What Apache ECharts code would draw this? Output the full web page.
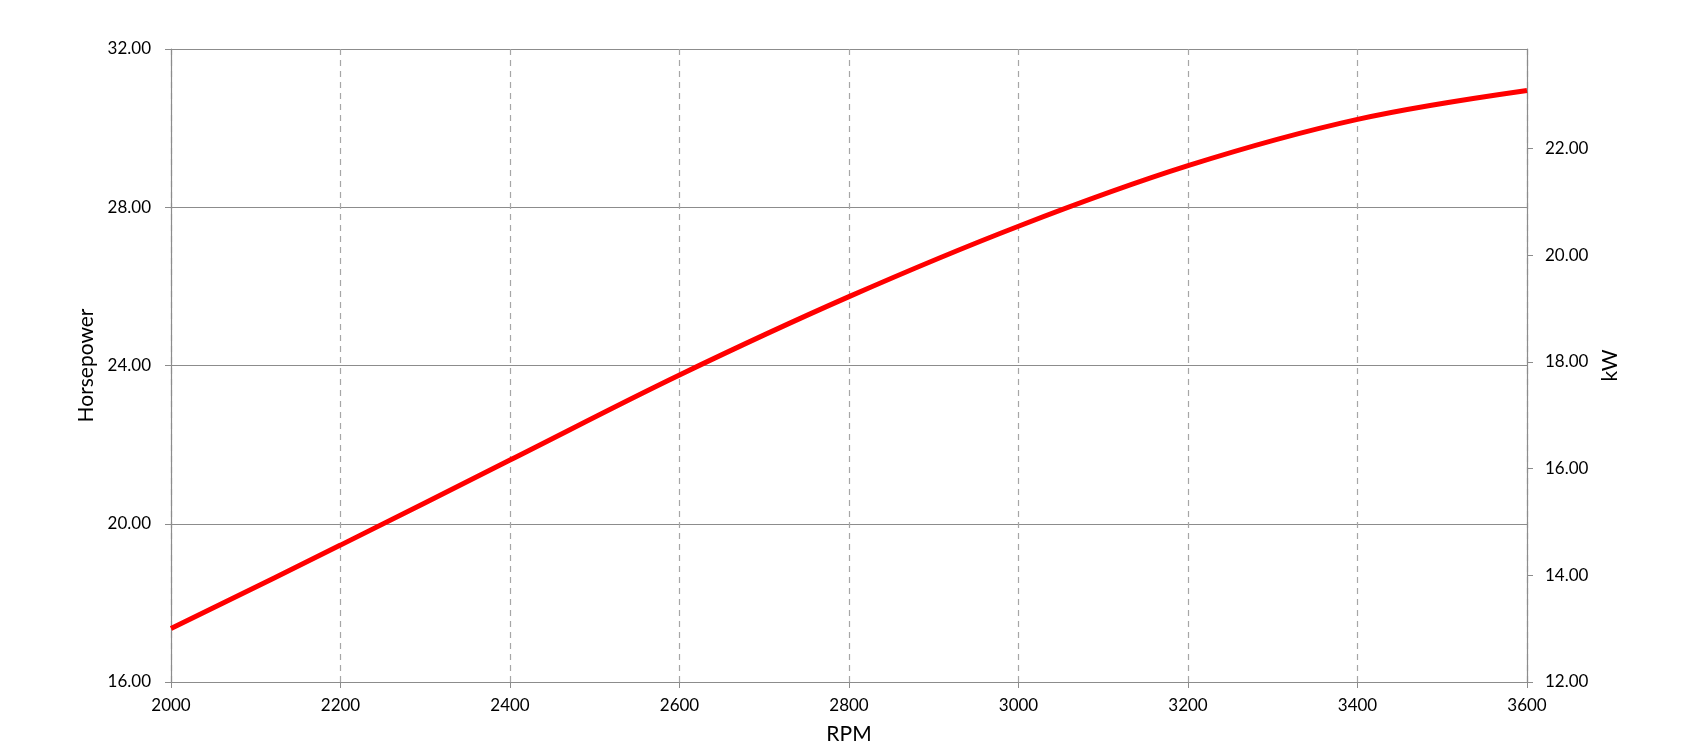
<!DOCTYPE html>
<html>
<head>
<meta charset="utf-8">
<script src="https://cdn.jsdelivr.net/npm/echarts@6/dist/echarts.min.js"></script>
<style>
html,body{margin:0;padding:0;background:#fff;}
#chart{width:1683px;height:755px;}
</style>
</head>
<body>
<div id="chart"></div>
<script>
const rpm = [2000, 2200, 2400, 2600, 2800, 3000, 3200, 3400, 3600];
const horsepower = [17.35, 19.46, 21.61, 23.76, 25.74, 27.52, 29.05, 30.22, 30.95];
const kwTicks = [12, 14, 16, 18, 20, 22];
const hpTicks = [16, 20, 24, 28, 32];

const FONT = 'Lato, "Open Sans", sans-serif';
const chart = echarts.init(document.getElementById('chart'));
chart.setOption({
  animation: false,
  backgroundColor: '#ffffff',
  grid: { left: 171, right: 156, top: 49, bottom: 73, outerBoundsMode: 'none', containLabel: false },
  xAxis: {
    type: 'value', min: 2000, max: 3600, interval: 200,
    name: 'RPM', nameLocation: 'middle', nameGap: 42,
    nameTextStyle: { fontFamily: FONT, fontSize: 21, color: '#000' },
    axisLine: { show: true, lineStyle: { color: '#8c8c8c', width: 1.2 } },
    axisTick: { show: true, length: 6, lineStyle: { color: '#8c8c8c' } },
    axisLabel: { fontFamily: FONT, fontSize: 17, color: '#000', margin: 15,
      formatter: v => String(v) },
    splitLine: { show: true, lineStyle: { color: '#a6a6a6', type: [6, 5], width: 1.2 } }
  },
  yAxis: [
    {
      type: 'value', min: 16, max: 32, interval: 4, position: 'left',
      name: 'Horsepower', nameLocation: 'middle', nameGap: 72, nameRotate: 90,
      nameTextStyle: { fontFamily: FONT, fontSize: 21, color: '#000' },
      axisLine: { show: true, lineStyle: { color: '#8c8c8c', width: 1.2 } },
      axisTick: { show: true, length: 6, lineStyle: { color: '#8c8c8c' } },
      axisLabel: { fontFamily: FONT, fontSize: 17, color: '#000', margin: 20,
        customValues: hpTicks, formatter: v => Number(v).toFixed(2) },
      splitLine: { show: true, lineStyle: { color: '#8c8c8c', width: 1.2 } }
    },
    {
      type: 'value', min: 12, max: 32 * 0.7457, position: 'right',
      name: 'kW', nameLocation: 'middle', nameGap: 72, nameRotate: 90,
      nameTextStyle: { fontFamily: FONT, fontSize: 21, color: '#000' },
      axisLine: { show: true, lineStyle: { color: '#8c8c8c', width: 1.2 } },
      axisTick: { show: true, length: 6, lineStyle: { color: '#8c8c8c' }, customValues: kwTicks },
      axisLabel: { fontFamily: FONT, fontSize: 17, color: '#000', margin: 18,
        customValues: kwTicks, formatter: v => Number(v).toFixed(2) },
      splitLine: { show: false }
    }
  ],
  series: [{
    type: 'line',
    yAxisIndex: 0,
    data: rpm.map((r, i) => [r, horsepower[i]]),
    smooth: 0.35,
    showSymbol: false,
    lineStyle: { color: '#ff0000', width: 5 }
  }]
});
</script>
</body>
</html>
